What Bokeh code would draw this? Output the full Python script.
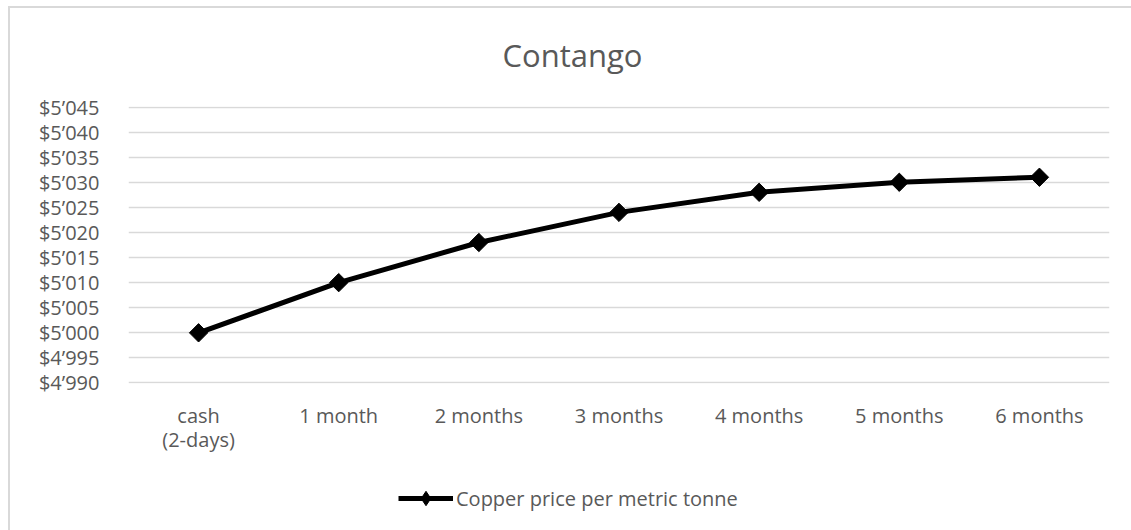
import math
from bokeh.plotting import figure
from bokeh.layouts import column
from bokeh.models import Range1d, FixedTicker, Legend, LegendItem, Title
from bokeh.embed import file_html
from bokeh.resources import INLINE

categories = ["cash\n(2-days)", "1 month", "2 months", "3 months", "4 months", "5 months", "6 months"]
prices = [5000, 5010, 5018, 5024, 5028, 5030, 5031]
y_ticks = [4990, 4995, 5000, 5005, 5010, 5015, 5020, 5025, 5030, 5035, 5040, 5045]
y_tick_labels = ["$4\u2019990", "$4\u2019995", "$5\u2019000", "$5\u2019005", "$5\u2019010", "$5\u2019015",
                 "$5\u2019020", "$5\u2019025", "$5\u2019030", "$5\u2019035", "$5\u2019040", "$5\u2019045"]
series_name = "Copper price per metric tonne"
title_text = "Contango"

FONT = "Open Sans"
GREY = "#595959"
EDGE = "#d9d9d9"

xs = list(range(len(categories)))

p = figure(width=1131, height=470, output_backend="svg", toolbar_location=None,
           x_range=Range1d(-0.5, len(categories) - 0.5), y_range=Range1d(4989.9, 5045.1),
           min_border_left=128, min_border_right=22, min_border_top=105, min_border_bottom=87)
p.outline_line_color = None
p.background_fill_color = "white"
p.border_fill_alpha = 0
p.styles = {"background": f"linear-gradient({EDGE},{EDGE}) 8px 6px / 2px 100% no-repeat, "
                          f"linear-gradient({EDGE},{EDGE}) 8px 6px / 100% 2px no-repeat, white"}

t = Title(text=title_text, text_font=FONT, text_font_size="31px", text_color=GREY,
          text_font_style="normal", align="left", offset=374, standoff=62)
p.add_layout(t, "above")

line_kw = dict(line_color="black", line_width=5)

p.line(xs, prices, **line_kw)
p.scatter(xs, prices, marker="square", angle=math.pi / 4, size=13,
          fill_color="black", line_color="black", line_width=1)

p.xgrid.grid_line_color = None
p.ygrid.grid_line_color = EDGE
p.ygrid.grid_line_width = 1.5
p.ygrid.ticker = FixedTicker(ticks=y_ticks)

p.yaxis.ticker = FixedTicker(ticks=y_ticks)
p.yaxis.major_label_overrides = {t_: l for t_, l in zip(y_ticks, y_tick_labels)}
p.yaxis.axis_line_color = None
p.yaxis.major_tick_line_color = None
p.yaxis.minor_tick_line_color = None
p.yaxis.major_label_text_font = FONT
p.yaxis.major_label_text_font_size = "20px"
p.yaxis.major_label_text_color = GREY
p.yaxis.major_label_standoff = 23

p.xaxis.ticker = FixedTicker(ticks=xs)
p.xaxis.major_label_overrides = {x: c for x, c in zip(xs, categories)}
p.xaxis.axis_line_color = None
p.xaxis.major_tick_line_color = None
p.xaxis.minor_tick_line_color = None
p.xaxis.major_label_text_font = FONT
p.xaxis.major_label_text_font_size = "20px"
p.xaxis.major_label_text_color = GREY
p.xaxis.major_label_text_line_height = 0.9
p.xaxis.major_label_standoff = 12

# legend strip: same series, kept out of view, only its legend entry shows
lf = figure(width=1131, height=60, output_backend="svg", toolbar_location=None,
            x_range=Range1d(100, 101), y_range=Range1d(0, 1),
            min_border=0, min_border_left=0, min_border_right=0, min_border_top=0, min_border_bottom=0)
lf.axis.visible = False
lf.grid.visible = False
lf.outline_line_color = None
lf.background_fill_alpha = 0
lf.border_fill_alpha = 0
lf.styles = {"background": f"linear-gradient({EDGE},{EDGE}) 8px 0 / 2px 100% no-repeat, white"}
l_line = lf.line(xs, prices, **line_kw)
l_pts = lf.scatter(xs, prices, marker="diamond", size=14, fill_color="black", line_color="black")
legend = Legend(items=[LegendItem(label=series_name, renderers=[l_line, l_pts])],
                location=(270, 14), orientation="horizontal",
                label_text_font=FONT, label_text_font_size="20px", label_text_color=GREY,
                glyph_width=55, glyph_height=36, label_standoff=3,
                border_line_color=None, background_fill_alpha=0, margin=0, padding=0)
lf.add_layout(legend, "center")

layout = column(p, lf, spacing=0)
open("out.html", "w").write(file_html(layout, INLINE))
